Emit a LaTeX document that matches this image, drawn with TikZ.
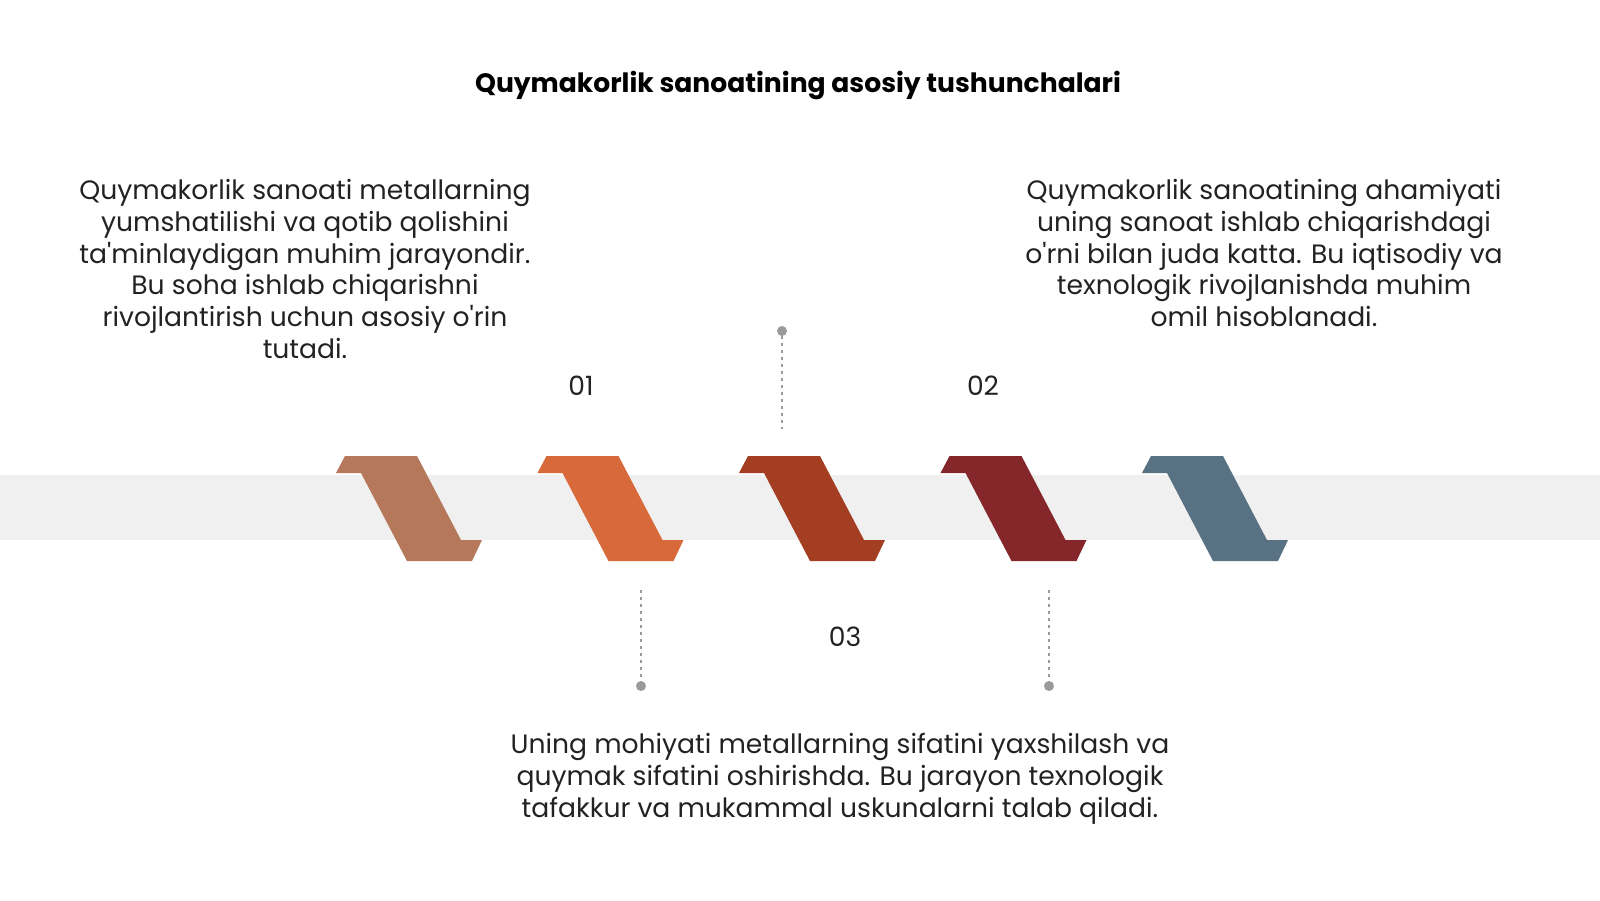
\documentclass[tikz,border=0pt]{standalone}
\usepackage{fontspec}
\setmainfont{Poppins}[Ligatures=TeXOff]
\definecolor{c1}{HTML}{B5785A}
\definecolor{c2}{HTML}{D8693A}
\definecolor{c3}{HTML}{A33E22}
\definecolor{c4}{HTML}{84262A}
\definecolor{c5}{HTML}{587183}
\definecolor{band}{HTML}{F0F0F0}
\definecolor{txt}{HTML}{222222}
\definecolor{dotc}{HTML}{9A9A9A}
\tikzset{
  body/.style={font=\fontsize{13.3}{15.9}\selectfont, text=txt, align=center, inner sep=0pt},
  num/.style={font=\fontsize{13.3}{15}\selectfont, text=txt, inner sep=0pt},
  conn/.style={draw=dotc, line width=0.6pt, dash pattern=on 1.5pt off 2pt},
  pin/.style={circle, fill=dotc, minimum size=5pt, inner sep=0pt},
}
\begin{document}
\begin{tikzpicture}[x=0.5pt,y=-0.5pt]
\useasboundingbox (0,0) rectangle (1600,900);
\fill[white] (0,0) rectangle (1600,900);
\fill[band] (0,475) rectangle (1600,540);
\foreach \i/\c in {0/c1,1/c2,2/c3,3/c4,4/c5}{
  \begin{scope}[xshift=\i*201.5*0.5pt]
  \fill[\c] (345,456) -- (417,456) -- (461,540) -- (482,540) -- (472,561) -- (407,561) -- (361,473) -- (336,473) -- cycle;
  \end{scope}
}
\node[font=\fontsize{13.3}{15}\selectfont\bfseries, text=black, inner sep=0pt] (title) at (798,86) {Quymakorlik sanoatining asosiy tushunchalari};
\node[body] (t1) at (305,269) {Quymakorlik sanoati metallarning\\yumshatilishi va qotib qolishini\\ta'minlaydigan muhim jarayondir.\\Bu soha ishlab chiqarishni\\rivojlantirish uchun asosiy o'rin\\tutadi.};
\node[body] (t2) at (1264,253) {Quymakorlik sanoatining ahamiyati\\uning sanoat ishlab chiqarishdagi\\o'rni bilan juda katta. Bu iqtisodiy va\\texnologik rivojlanishda muhim\\omil hisoblanadi.};
\node[body] (t3) at (840,779) {Uning mohiyati metallarning sifatini yaxshilash va\\quymak sifatini oshirishda. Bu jarayon texnologik\\tafakkur va mukammal uskunalarni talab qiladi.};
\node[num] (n1) at (581,386) {01};
\node[num] (n2) at (983,386) {02};
\node[num] (n3) at (845,637) {03};
\node[pin] (p1) at (782,331) {};
\coordinate (e1) at (782,429);
\node[pin] (p2) at (641,686) {};
\coordinate (e2) at (641,590);
\node[pin] (p3) at (1049,686) {};
\coordinate (e3) at (1049,590);
\draw[conn] (p1) -- (e1);
\draw[conn] (e2) -- (p2);
\draw[conn] (e3) -- (p3);
\end{tikzpicture}
\end{document}
